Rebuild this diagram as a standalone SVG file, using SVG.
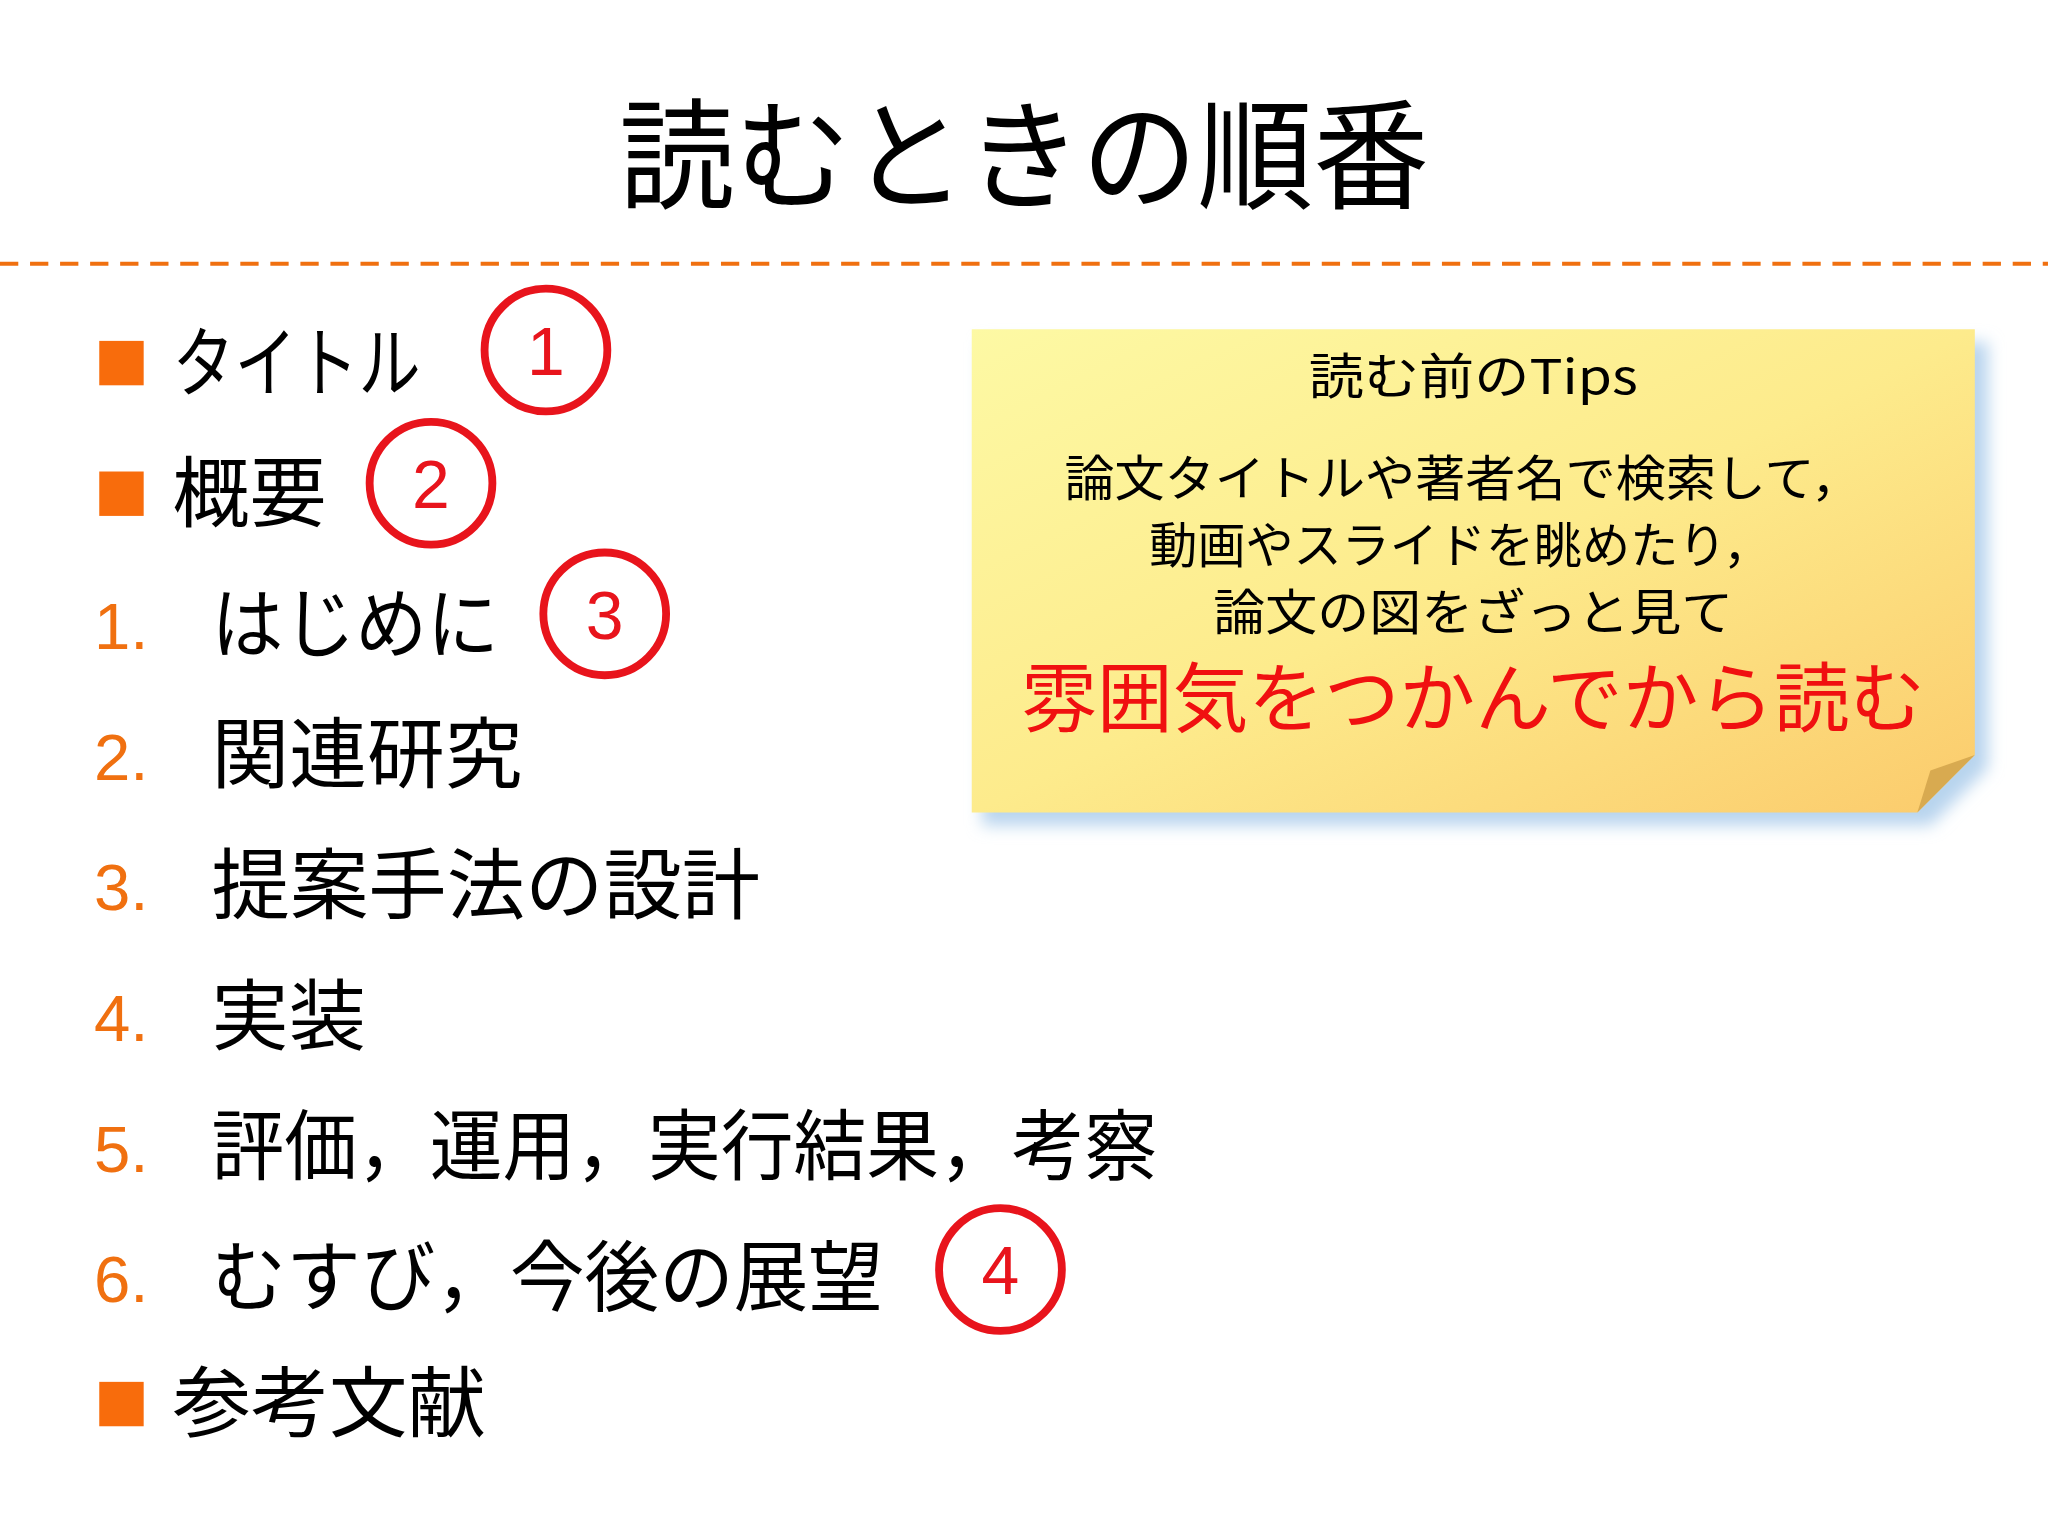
<svg xmlns="http://www.w3.org/2000/svg" width="2048" height="1536" viewBox="0 0 2048 1536">
<style>
text{font-family:"Noto Sans CJK JP","Liberation Sans",sans-serif}
.item{font-size:59px;fill:#000}
.num{font-size:50px;fill:#f07010;font-family:"Liberation Sans",sans-serif}
.sq{fill:#f86c0c}
.circ{fill:none;stroke:#e8141c;stroke-width:6}
.cn{font-size:52px;fill:#e8141c;text-anchor:middle;font-family:"Liberation Sans",sans-serif}
.tip{font-size:37px;fill:#000;text-anchor:middle}
</style>
<defs>
<linearGradient id="g" x1="0" y1="0" x2="1" y2="1">
<stop offset="0" stop-color="#fdf9a4"/><stop offset="0.5" stop-color="#fdeb8c"/><stop offset="1" stop-color="#fbcb6c"/>
</linearGradient>
<filter id="sh" x="-10%" y="-10%" width="130%" height="130%"><feGaussianBlur stdDeviation="6"/></filter>
</defs>
<rect width="2048" height="1536" fill="#fff"/>
<g transform="scale(1.3061)">
<g id="title"><text x="784" y="153" font-size="92" text-anchor="middle" textLength="620" lengthAdjust="spacingAndGlyphs">読むときの順番</text></g>
<line x1="0" y1="202" x2="1568" y2="202" stroke="#f07010" stroke-width="3" stroke-dasharray="14,9"/>
<g id="list">
<rect class="sq" x="76" y="261" width="34" height="34"/><text class="item" x="132" y="299" textLength="190" lengthAdjust="spacingAndGlyphs">タイトル</text>
<rect class="sq" x="76" y="361" width="34" height="34"/><text class="item" x="132" y="399">概要</text>
<text class="num" x="72" y="497">1.</text><text class="item" x="162" y="499" textLength="220" lengthAdjust="spacingAndGlyphs">はじめに</text>
<text class="num" x="72" y="597">2.</text><text class="item" x="162" y="599" textLength="238" lengthAdjust="spacingAndGlyphs">関連研究</text>
<text class="num" x="72" y="697">3.</text><text class="item" x="162" y="699" textLength="420" lengthAdjust="spacingAndGlyphs">提案手法の設計</text>
<text class="num" x="72" y="797">4.</text><text class="item" x="162" y="799">実装</text>
<text class="num" x="72" y="897">5.</text><text class="item" x="162" y="899" textLength="724" lengthAdjust="spacingAndGlyphs">評価，運用，実行結果，考察</text>
<text class="num" x="72" y="997">6.</text><text class="item" x="162" y="999" textLength="514" lengthAdjust="spacingAndGlyphs">むすび，今後の展望</text>
<rect class="sq" x="76" y="1058" width="34" height="34"/><text class="item" x="132" y="1096" textLength="240" lengthAdjust="spacingAndGlyphs">参考文献</text>
</g>
<g id="c1"><circle class="circ" cx="418" cy="268" r="47"/><text class="cn" x="418" y="287">1</text></g>
<g id="c2"><circle class="circ" cx="330" cy="370" r="47"/><text class="cn" x="330" y="389">2</text></g>
<g id="c3"><circle class="circ" cx="463" cy="470" r="47"/><text class="cn" x="463" y="489">3</text></g>
<g id="c4"><circle class="circ" cx="766" cy="972" r="47"/><text class="cn" x="766" y="991">4</text></g>
<g id="tips">
<path d="M752 262H1522V588L1478 632H752Z" fill="#b8d4ee" filter="url(#sh)"/>
<path d="M744 252H1512V578L1468 622H744Z" fill="url(#g)"/>
<path d="M1512 578L1468 622L1478 590Z" fill="#d8aa50"/>
<text class="tip" x="1128" y="302" textLength="252" lengthAdjust="spacingAndGlyphs">読む前のTips</text>
<text class="tip" x="1120" y="380" textLength="610" lengthAdjust="spacingAndGlyphs">論文タイトルや著者名で検索して，</text>
<text class="tip" x="1118" y="431" textLength="476" lengthAdjust="spacingAndGlyphs">動画やスライドを眺めたり，</text>
<text class="tip" x="1128" y="482" textLength="398" lengthAdjust="spacingAndGlyphs">論文の図をざっと見て</text>
<text x="1128" y="556" font-size="58" fill="#f01010" text-anchor="middle" textLength="692" lengthAdjust="spacingAndGlyphs">雰囲気をつかんでから読む</text>
</g>
</g>
</svg>
